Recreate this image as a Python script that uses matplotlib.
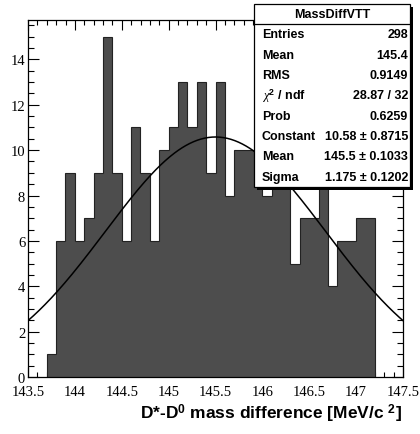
import numpy as np
import matplotlib.pyplot as plt
from matplotlib.patches import Rectangle
from matplotlib.ticker import MultipleLocator

# Histogrammets data: bin-kanter och antal per bin (0.1 MeV breda)
bin_start = 143.7
bin_width = 0.1
counts = [1, 6, 9, 6, 7, 9, 15, 9, 6, 11, 9, 6, 10, 11, 13, 11, 13, 9, 13, 8,
          10, 10, 10, 8, 10, 10, 5, 7, 7, 9, 4, 6, 6, 7, 7]
edges = bin_start + bin_width * np.arange(len(counts) + 1)

# Gauss-anpassning
fit_const = 10.58
fit_mean = 145.5
fit_sigma = 1.175

# Statistikruta
stat_title = 'MassDiffVTT'
stat_names = ['Entries', 'Mean', 'RMS', r'$\chi^{2}$ / ndf', 'Prob', 'Constant', 'Mean', 'Sigma']
stat_values = ['298', '145.4', '0.9149', '28.87 / 32', '0.6259',
               '10.58 ± 0.8715', '145.5 ± 0.1033', '1.175 ± 0.1202']

xmin, xmax = 143.5, 147.5
ymax = 1.05 * max(counts)

plt.rcParams['mathtext.fontset'] = 'custom'
plt.rcParams['mathtext.rm'] = 'Liberation Sans:bold'
plt.rcParams['mathtext.bf'] = 'Liberation Sans:bold'
plt.rcParams['mathtext.it'] = 'Liberation Serif:italic'

W, H = 420, 435
fig = plt.figure(figsize=(W / 100, H / 100), dpi=100)
ax = fig.add_axes([28 / W, 1 - 378 / H, (403 - 28) / W, (378 - 20.7) / H])

ax.stairs(counts, edges, fill=True, facecolor='#4d4d4d', edgecolor='#222222', linewidth=0.8, zorder=2)

x = np.linspace(xmin, xmax, 400)
y = fit_const * np.exp(-0.5 * ((x - fit_mean) / fit_sigma) ** 2)
ax.plot(x, y, color='black', linewidth=1.1, zorder=3)

ax.set_xlim(xmin, xmax)
ax.set_ylim(0, ymax)
ax.xaxis.set_major_locator(MultipleLocator(0.5))
ax.xaxis.set_minor_locator(MultipleLocator(0.1))
ax.yaxis.set_major_locator(MultipleLocator(2))
ax.yaxis.set_minor_locator(MultipleLocator(0.5))
ax.xaxis.set_major_formatter(plt.FuncFormatter(lambda v, p: '%g' % v))
ax.tick_params(which='both', direction='in', top=True, right=True, width=0.8, colors='black')
ax.tick_params(axis='x', which='major', length=7.2, pad=5.5)
ax.tick_params(axis='x', which='minor', length=3.4)
ax.tick_params(axis='y', which='major', length=8, pad=2)
ax.tick_params(axis='y', which='minor', length=4)
for lab in ax.get_xticklabels() + ax.get_yticklabels():
    lab.set_fontfamily('Liberation Serif')
    lab.set_fontsize(10.5)
for s in ax.spines.values():
    s.set_linewidth(0.9)

fig.text(402 / W, 1 - 414 / H, r'D*-D$^{\mathbf{0}}$ mass difference [MeV/c $^{\mathbf{2}}$]',
         ha='right', va='center', fontsize=12.5, fontweight='bold', family='Liberation Sans')

# Statistikrutan i pixelkoordinater
def px(xp, yp):
    return xp / W, 1 - yp / H

bx0, bx1, by0, by1 = 254, 410, 5, 188
row_h = (by1 - 25) / 8
shadow = Rectangle(px(bx0 + 3, by1 + 3), (bx1 - bx0) / W, (by1 - by0) / H,
                   transform=fig.transFigure, facecolor='black', edgecolor='none', zorder=9)
fig.add_artist(shadow)
box = Rectangle(px(bx0, by1), (bx1 - bx0) / W, (by1 - by0) / H, transform=fig.transFigure,
                facecolor='white', edgecolor='black', linewidth=0.9, zorder=10)
fig.add_artist(box)
fig.add_artist(plt.Line2D([bx0 / W, bx1 / W], [1 - 25 / H, 1 - 25 / H],
                          transform=fig.transFigure, color='black', linewidth=0.9, zorder=11))
fig.text(*px((bx0 + bx1) / 2, 15), stat_title, ha='center', va='center', fontsize=9,
         fontweight='bold', family='Liberation Sans', zorder=12)
for i, (n, v) in enumerate(zip(stat_names, stat_values)):
    yc = 25 + row_h * (i + 0.5)
    fig.text(*px(262, yc), n, ha='left', va='center', fontsize=9, fontweight='bold',
             family='Liberation Sans', zorder=12)
    fig.text(*px(408, yc), v, ha='right', va='center', fontsize=9, fontweight='bold',
             family='Liberation Sans', zorder=12)

fig.savefig('out.png', dpi=100)
